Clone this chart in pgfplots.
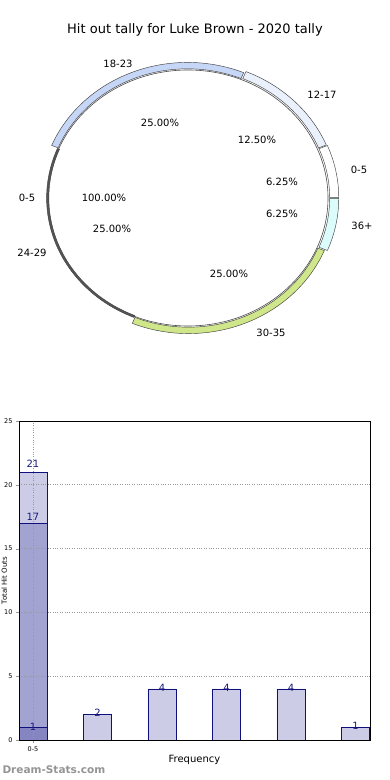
\documentclass[border=0pt]{standalone}
\usepackage{fontspec}
\setmainfont{DejaVu Sans}
\usepackage{pgfplots}
\pgfplotsset{compat=1.18}
\pgfplotsset{/pgf/number format/assume math mode=true}
\definecolor{barlight}{HTML}{CCCCE6}
\definecolor{barmid}{HTML}{A3A3D1}
\definecolor{bardark}{HTML}{8585C2}
\definecolor{baredge}{HTML}{10107A}
\definecolor{lblblue}{HTML}{1A1A80}
\definecolor{segA}{HTML}{FFFFFF}
\definecolor{segB}{HTML}{EAF0FC}
\definecolor{segC}{HTML}{C6D6F6}
\definecolor{segD}{HTML}{555555}
\definecolor{segE}{HTML}{D0E68A}
\definecolor{segF}{HTML}{DCFCFC}
% #1 start (percent), #2 share (percent), #3 inner r, #4 outer r, #5 explode, #6 colour
\newcommand{\seg}[6]{%
\fill[#6, draw=black!75, line width=0.45pt]
 (axis cs:{#3*cos(#1*3.6)+#5*cos((#1+#2/2)*3.6)},{#3*sin(#1*3.6)+#5*sin((#1+#2/2)*3.6)})
 -- (axis cs:{#4*cos(#1*3.6)+#5*cos((#1+#2/2)*3.6)},{#4*sin(#1*3.6)+#5*sin((#1+#2/2)*3.6)})
 arc[start angle={#1*3.6}, end angle={(#1+#2)*3.6}, x radius={#4*140pt}, y radius={#4*128pt}]
 -- (axis cs:{#3*cos((#1+#2)*3.6)+#5*cos((#1+#2/2)*3.6)},{#3*sin((#1+#2)*3.6)+#5*sin((#1+#2/2)*3.6)})
 arc[start angle={(#1+#2)*3.6}, end angle={#1*3.6}, x radius={#3*140pt}, y radius={#3*128pt}]
 -- cycle;}
\begin{document}
\begin{tikzpicture}[x=1pt,y=1pt]
\path[use as bounding box] (0,0) rectangle (390,780);
% title
\node[font=\fontsize{13}{15}\selectfont] at (195,750) {Hit out tally for Luke Brown - 2020 tally};
% pie (hidden axis, unit = radii 140 x 128)
\begin{axis}[at={(20pt,428.4pt)}, anchor=south west, scale only axis,
  width=336pt, height=307.2pt, xmin=-1.2, xmax=1.2, ymin=-1.2, ymax=1.2,
  hide axis, clip=false]
\fill[white, draw=black!70, line width=0.6pt] (axis cs:0,0) ellipse[x radius=140pt, y radius=128pt];
% shares in percent: 0-5 6.25, 12-17 12.5, 18-23 25, 24-29 25, 30-35 25, 36+ 6.25
\seg{0}{6.25}{1.0}{1.065}{0.012}{segA}
\seg{6.25}{12.5}{1.0}{1.06}{0.012}{segB}
\seg{18.75}{25}{1.0}{1.05}{0.01}{segC}
\seg{43.75}{25}{0.994}{1.01}{0}{segD}
\seg{68.75}{25}{1.0}{1.05}{0.01}{segE}
\seg{93.75}{6.25}{1.0}{1.065}{0.012}{segF}
\end{axis}
\begin{scope}[every node/.style={font=\fontsize{10}{12}\selectfont}]
\node at (118,716) {18-23};
\node at (322,685) {12-17};
\node at (359,610) {0-5};
\node at (362,554) {36+};
\node at (271,447) {30-35};
\node at (32,527) {24-29};
\node at (27,582) {0-5};
\node at (104,582) {100.00\%};
\node at (160,657) {25.00\%};
\node at (257,640) {12.50\%};
\node at (282,598) {6.25\%};
\node at (282,566) {6.25\%};
\node at (229,506) {25.00\%};
\node at (112,551) {25.00\%};
\end{scope}
% bar chart
\begin{axis}[at={(19pt,40pt)}, anchor=south west, scale only axis,
  width=351pt, height=319pt,
  xmin=-0.217, xmax=5.225, ymin=0, ymax=25,
  ytick={0,5,10,15,20,25}, xtick={0}, xticklabels={0-5},
  ymajorgrids, xmajorgrids,
  grid style={dotted, black!40, line width=0.9pt},
  axis on top,
  tick label style={font=\fontsize{6.5}{7}\selectfont},
  tick align=outside, tick pos=left, major tick length=3pt,
  tick style={black!40},
  axis line style={black, line width=0.8pt},
  xlabel={Frequency},
  xlabel style={font=\fontsize{10}{12}\selectfont, at={(axis description cs:0.5,0)}, anchor=center, yshift=-20pt},
  ylabel={Total Hit Outs},
  ylabel style={font=\fontsize{7}{8}\selectfont, at={(axis description cs:-0.042,0.5)}, anchor=center},
  ybar, bar width=28pt, bar shift=0pt,
  nodes near coords,
  every node near coord/.append style={anchor=center, font=\fontsize{10}{12}\selectfont, text=lblblue},
]
\addplot[fill=barlight, draw=baredge, line width=0.8pt,
  every node near coord/.append style={yshift=8pt}] coordinates {(0,21)};
\addplot[fill=barlight, draw=baredge, line width=0.8pt,
  every node near coord/.append style={yshift=1.5pt}] coordinates {(1,2) (2,4) (3,4) (4,4) (5,1)};
\addplot[fill=barmid, draw=baredge, line width=0.8pt,
  every node near coord/.append style={yshift=6pt}] coordinates {(0,17)};
\addplot[fill=bardark, draw=baredge, line width=0.8pt,
  every node near coord/.append style={yshift=0pt}] coordinates {(0,1)};
\end{axis}
\node[anchor=west, font=\bfseries\fontsize{10.5}{12}\selectfont, text=black!42] at (-1,10) {Dream-Stats.com};
\end{tikzpicture}
\end{document}
